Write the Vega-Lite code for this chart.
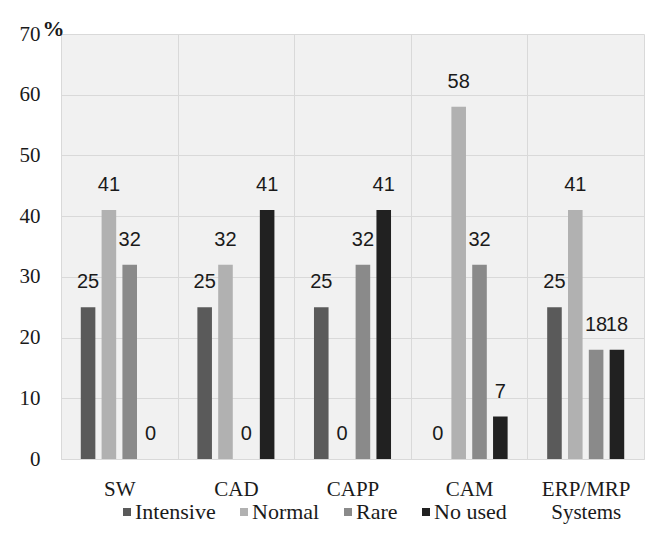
{
  "$schema": "https://vega.github.io/schema/vega-lite/v6.json",
  "width": 583,
  "height": 425,
  "autosize": "none",
  "padding": {"left": 61, "top": 34, "right": 10, "bottom": 88},
  "background": "white",
  "config": {
    "font": "Liberation Serif, serif",
    "view": {"fill": "#f1f1f1", "stroke": null},
    "axis": {"labelFont": "Liberation Serif, serif", "titleFont": "Liberation Serif, serif"},
    "legend": {"labelFont": "Liberation Serif, serif", "titleFont": "Liberation Serif, serif"}
  },
  "data": {
    "values": [
      {"system": "SW", "usage": "Intensive", "value": 25},
      {"system": "SW", "usage": "Normal", "value": 41},
      {"system": "SW", "usage": "Rare", "value": 32},
      {"system": "SW", "usage": "No used", "value": 0},
      {"system": "CAD", "usage": "Intensive", "value": 25},
      {"system": "CAD", "usage": "Normal", "value": 32},
      {"system": "CAD", "usage": "Rare", "value": 0},
      {"system": "CAD", "usage": "No used", "value": 41},
      {"system": "CAPP", "usage": "Intensive", "value": 25},
      {"system": "CAPP", "usage": "Normal", "value": 0},
      {"system": "CAPP", "usage": "Rare", "value": 32},
      {"system": "CAPP", "usage": "No used", "value": 41},
      {"system": "CAM", "usage": "Intensive", "value": 0},
      {"system": "CAM", "usage": "Normal", "value": 58},
      {"system": "CAM", "usage": "Rare", "value": 32},
      {"system": "CAM", "usage": "No used", "value": 7},
      {"system": "ERP/MRP Systems", "usage": "Intensive", "value": 25},
      {"system": "ERP/MRP Systems", "usage": "Normal", "value": 41},
      {"system": "ERP/MRP Systems", "usage": "Rare", "value": 18},
      {"system": "ERP/MRP Systems", "usage": "No used", "value": 18}
    ]
  },
  "encoding": {
    "x": {
      "field": "system",
      "type": "nominal",
      "sort": ["SW", "CAD", "CAPP", "CAM", "ERP/MRP Systems"],
      "scale": {"paddingInner": 0, "paddingOuter": 0},
      "axis": {
        "title": null,
        "labelAngle": 0,
        "labelFont": "Liberation Serif, serif",
        "labelFontSize": 21,
        "labelColor": "#1a1a1a",
        "labelPadding": 19,
        "labelExpr": "split(datum.label, ' ')",
        "labelLineHeight": 23,
        "tickBand": "extent",
        "ticks": false,
        "grid": true,
        "gridColor": "#d9d9d9",
        "domainColor": "#d9d9d9"
      }
    },
    "xOffset": {
      "field": "usage",
      "type": "nominal",
      "sort": ["Intensive", "Normal", "Rare", "No used"],
      "scale": {"paddingInner": 0.3, "paddingOuter": 0.95}
    },
    "y": {
      "field": "value",
      "type": "quantitative",
      "scale": {"domain": [0, 70]},
      "axis": {
        "values": [0, 10, 20, 30, 40, 50, 60, 70],
        "title": "%",
        "titleFont": "Liberation Serif, serif",
        "titleAngle": 0,
        "titleFontSize": 22,
        "titleFontWeight": "bold",
        "titleColor": "#1a1a1a",
        "titleAlign": "center",
        "titleBaseline": "alphabetic",
        "titleX": -8,
        "titleY": 1,
        "labelFont": "Liberation Serif, serif",
        "labelFontSize": 21,
        "labelColor": "#1a1a1a",
        "labelPadding": 21,
        "ticks": false,
        "domain": false,
        "gridColor": "#d9d9d9"
      }
    }
  },
  "layer": [
    {
      "mark": {"type": "bar"},
      "encoding": {
        "color": {
          "field": "usage",
          "type": "nominal",
          "sort": ["Intensive", "Normal", "Rare", "No used"],
          "scale": {
            "domain": ["Intensive", "Normal", "Rare", "No used"],
            "range": ["#5a5a5a", "#b1b1b1", "#8a8a8a", "#212121"]
          },
          "legend": {
            "title": null,
            "orient": "none",
            "direction": "horizontal",
            "legendX": 55,
            "legendY": 467,
            "symbolType": "square",
            "symbolSize": 64,
            "symbolStrokeWidth": 0,
            "labelFont": "Liberation Serif, serif",
            "labelFontSize": 22,
            "labelColor": "#1a1a1a",
            "labelOffset": -3,
            "columnPadding": 17
          }
        }
      }
    },
    {
      "mark": {
        "type": "text",
        "font": "Liberation Sans",
        "fontSize": 20,
        "baseline": "alphabetic",
        "dy": -19,
        "color": "#1a1a1a"
      },
      "encoding": {
        "text": {"field": "value", "type": "quantitative"}
      }
    }
  ]
}
